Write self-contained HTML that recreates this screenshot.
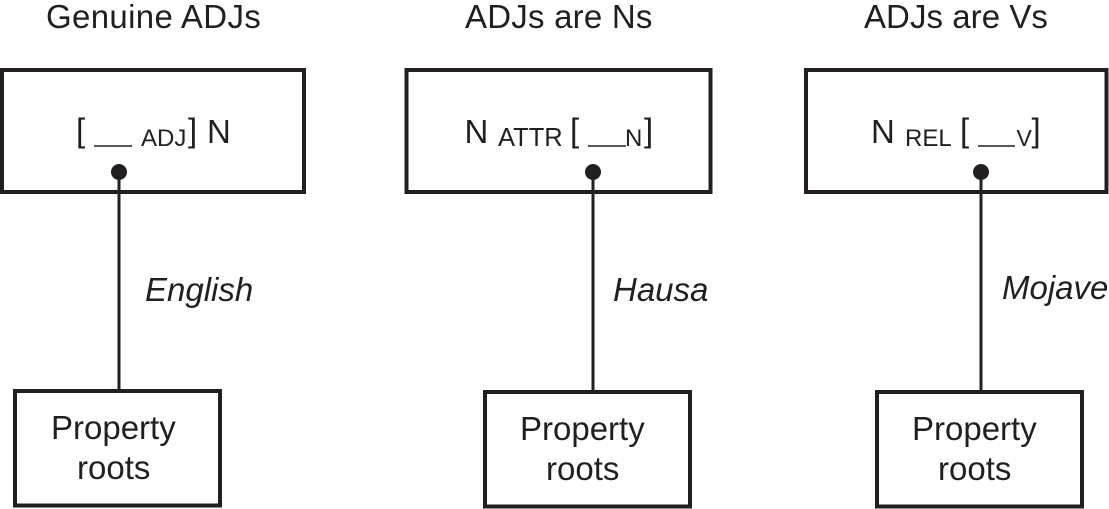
<!DOCTYPE html>
<html>
<head>
<meta charset="utf-8">
<style>
html,body{margin:0;padding:0;background:#fff;}
svg{display:block;}
text{font-family:"Liberation Sans",Arial,sans-serif;fill:#231f20;}
.b{fill:none;stroke:#231f20;stroke-width:4;}
.l{stroke:#231f20;stroke-width:3;fill:none;}
.u{stroke:#231f20;stroke-width:1.6;}
</style>
</head>
<body>
<svg width="1109" height="509" viewBox="0 0 1109 509" xmlns="http://www.w3.org/2000/svg">
<rect width="1109" height="509" fill="#fff"/>
<text x="46" y="28" font-size="33" letter-spacing="0.35">Genuine ADJs</text>
<text x="465" y="28" font-size="33" letter-spacing="0.22">ADJs are Ns</text>
<text x="864" y="28" font-size="33" letter-spacing="0.05">ADJs are Vs</text>

<rect class="b" x="2" y="70" width="302" height="122"/>
<rect class="b" x="406.5" y="70" width="304" height="122"/>
<rect class="b" x="806" y="70" width="300.5" height="122"/>

<text x="76" y="141.5" font-size="33">[</text>
<line class="u" x1="94" y1="146" x2="132" y2="146"/>
<text x="141" y="146" font-size="24">ADJ</text>
<text x="188" y="141.5" font-size="33">]</text>
<text x="207" y="143" font-size="33">N</text>

<text x="464.5" y="143" font-size="33">N</text>
<text x="498" y="146" font-size="25.5">ATTR</text>
<text x="570" y="141.5" font-size="33">[</text>
<line class="u" x1="588" y1="146" x2="626" y2="146"/>
<text x="625" y="146" font-size="24">N</text>
<text x="644" y="141.5" font-size="33">]</text>

<text x="871" y="143" font-size="33">N</text>
<text x="905" y="146" font-size="24">REL</text>
<text x="960" y="141.5" font-size="33">[</text>
<line class="u" x1="978" y1="146" x2="1015" y2="146"/>
<text x="1016.5" y="146" font-size="23">V</text>
<text x="1031.5" y="141.5" font-size="33">]</text>

<line class="l" x1="119" y1="172" x2="119" y2="391"/>
<line class="l" x1="593" y1="172" x2="593" y2="392"/>
<line class="l" x1="981" y1="172" x2="981" y2="392"/>
<circle cx="119" cy="172" r="8" fill="#231f20"/>
<circle cx="593" cy="172" r="8" fill="#231f20"/>
<circle cx="981" cy="172" r="8" fill="#231f20"/>

<text x="145" y="301" font-size="33" font-style="italic">English</text>
<text x="613" y="301" font-size="33" font-style="italic">Hausa</text>
<text x="1002" y="299" font-size="33" font-style="italic">Mojave</text>

<rect class="b" x="15" y="391" width="205" height="114.5"/>
<rect class="b" x="485" y="392" width="205" height="114.5"/>
<rect class="b" x="877" y="392" width="205" height="114.5"/>

<text x="51" y="439" font-size="33">Property</text>
<text x="77" y="479" font-size="33">roots</text>
<text x="520" y="440" font-size="33">Property</text>
<text x="546" y="480" font-size="33">roots</text>
<text x="912" y="440" font-size="33">Property</text>
<text x="938" y="480" font-size="33">roots</text>
</svg>
</body>
</html>
